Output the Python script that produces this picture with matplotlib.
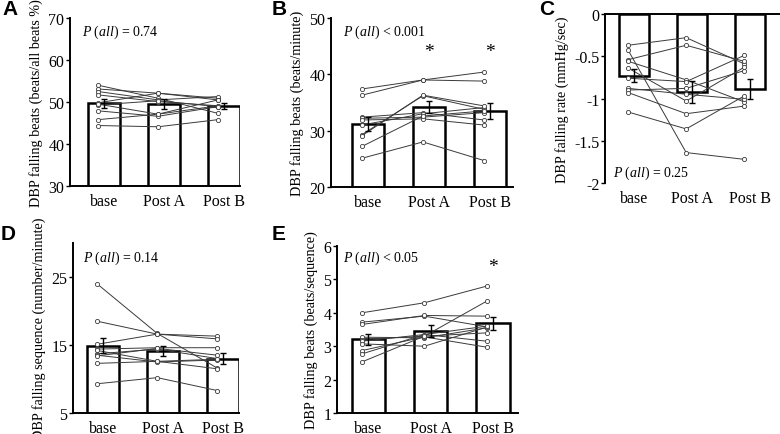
# five-panel DBP falling beat summary (bars = mean +/- SEM, lines = subjects)

import numpy as np
import matplotlib
matplotlib.use('Agg')
import matplotlib.pyplot as plt

plt.rcParams['font.family'] = 'Liberation Serif'
plt.rcParams['mathtext.fontset'] = 'custom'
plt.rcParams['mathtext.rm'] = 'Liberation Serif'
plt.rcParams['mathtext.it'] = 'Liberation Serif:italic'
plt.rcParams['axes.unicode_minus'] = False

conditions = ['base', 'Post A', 'Post B']

# A: falling beats (% of all beats)
a_base = [54.0, 53.1, 52.5, 51.7, 49.8, 49.3, 49.5, 47.9, 45.8, 44.4]
a_post_a = [50.9, 52.1, 50.5, 50.1, 52.1, 50.3, 47.1, 46.6, 47.1, 44.1]
a_post_b = [47.3, 50.9, 51.3, 49.1, 50.5, 48.9, 49.1, 48.9, 50.5, 45.8]
a_mean = [49.7, 49.5, 49.0]
a_sem = [1.1, 1.1, 0.7]

# B: falling beats per minute
b_base = [37.4, 36.3, 32.4, 32.2, 31.9, 31.0, 29.3, 29.1, 27.2, 25.1]
b_post_a = [39.0, 39.0, 33.2, 32.4, 32.1, 33.0, 36.2, 36.3, 32.6, 28.0]
b_post_b = [40.4, 38.8, 31.9, 33.2, 31.0, 34.1, 33.8, 34.4, 33.5, 24.7]
b_mean = [31.2, 34.2, 33.5]
b_sem = [1.2, 1.1, 1.4]

# C: falling rate (mmHg/sec)
c_base = [-0.37, -0.43, -0.54, -0.56, -0.64, -0.76, -0.88, -0.90, -0.93, -1.16]
c_post_a = [-0.28, -1.64, -0.37, -0.78, -1.03, -0.80, -0.95, -0.88, -1.18, -1.36]
c_post_b = [-0.59, -1.72, -0.56, -1.04, -0.63, -0.49, -1.01, -0.67, -1.09, -0.97]
c_mean = [-0.73, -0.92, -0.89]
c_sem = [0.08, 0.13, 0.12]

# D: falling sequences per minute
d_base = [24.0, 18.5, 15.1, 14.4, 14.2, 13.7, 13.5, 13.4, 12.3, 9.3]
d_post_a = [16.7, 16.6, 16.6, 14.6, 12.6, 14.4, 12.5, 14.5, 12.6, 10.2]
d_post_b = [11.6, 16.3, 15.9, 14.6, 11.5, 13.0, 12.8, 13.5, 12.9, 8.3]
d_mean = [14.9, 14.1, 13.0]
d_sem = [1.1, 0.7, 0.8]

# E: beats per sequence
e_base = [4.0, 3.72, 3.65, 3.27, 3.2, 3.15, 3.07, 2.87, 2.77, 2.53]
e_post_a = [4.3, 3.9, 3.92, 3.25, 3.3, 3.35, 3.0, 3.28, 3.35, 3.3]
e_post_b = [4.8, 3.58, 3.9, 3.55, 3.4, 3.15, 3.57, 2.97, 3.6, 4.35]
e_mean = [3.21, 3.46, 3.68]
e_sem = [0.17, 0.17, 0.19]

W, H = 780, 435


def px_axes(x0, y0, x1, y1):
    # pixel box (top-left origin) -> figure axes
    return fig.add_axes([x0 / W, 1 - y1 / H, (x1 - x0) / W, (y1 - y0) / H])


def draw_panel(ax, subjects, means, sems, ylim, yticks, xlim, ylabel, top_axis=False):
    x = np.arange(len(conditions))
    ax.bar(x, means, width=0.53, color='white', edgecolor='black', linewidth=1.8, zorder=1)
    data = np.array(subjects).T
    for row in data:
        ax.plot(x - 0.1, row, color='#3a3a3a', linewidth=0.7, marker='o', markersize=3.0,
                markerfacecolor='white', markeredgecolor='#3a3a3a', markeredgewidth=0.6, zorder=2)
    ax.errorbar(x, means, yerr=sems, fmt='none', ecolor='black', elinewidth=1.0,
                capsize=2.5, capthick=1.0, zorder=3)
    ax.set_xlim(*xlim)
    ax.set_ylim(*ylim)
    ax.set_yticks(yticks)
    ax.set_yticklabels([f'{t:g}' for t in yticks])
    ax.set_xticks(x)
    ax.set_xticklabels(conditions)
    ax.spines['right'].set_visible(False)
    if top_axis:
        ax.spines['bottom'].set_visible(False)
        ax.spines['top'].set_linewidth(1.4)
    else:
        ax.spines['top'].set_visible(False)
        ax.spines['bottom'].set_linewidth(1.4)
    ax.spines['left'].set_linewidth(1.4)
    ax.tick_params(axis='y', direction='out', length=3, width=1, pad=1, labelsize=11.5)
    ax.tick_params(axis='x', length=0, pad=5, labelsize=11.5)
    ax.set_ylabel(ylabel, fontsize=10.2, labelpad=4)
    ax.patch.set_alpha(0)


fig = plt.figure(figsize=(W / 100, H / 100), dpi=100)

ax_a = px_axes(70, 19, 240, 187)
draw_panel(ax_a, [a_base, a_post_a, a_post_b], a_mean, a_sem, (30, 70), [30, 40, 50, 60, 70],
           (-0.567, 2.267), 'DBP falling beats (beats/all beats %)')

ax_b = px_axes(331, 19, 513, 188)
draw_panel(ax_b, [b_base, b_post_a, b_post_b], b_mean, b_sem, (20, 50), [20, 30, 40, 50],
           (-0.607, 2.377), 'DBP falling beats (beats/minute)')

ax_c = px_axes(605, 15, 779, 184)
draw_panel(ax_c, [c_base, c_post_a, c_post_b], c_mean, c_sem, (-2, 0), [0, -0.5, -1, -1.5, -2],
           (-0.5, 2.5), 'DBP falling rate (mmHg/sec)', top_axis=True)

ax_d = px_axes(73, 244, 239, 414)
draw_panel(ax_d, [d_base, d_post_a, d_post_b], d_mean, d_sem, (5, 30), [5, 15, 25],
           (-0.5, 2.26), 'DBP falling sequence (number/minute)')

ax_e = px_axes(337, 247, 518, 414)
draw_panel(ax_e, [e_base, e_post_a, e_post_b], e_mean, e_sem, (1, 6), [1, 2, 3, 4, 5, 6],
           (-0.5, 2.4), 'DBP falling beats (beats/sequence)')

# significance marks
ax_b.text(1, 44.0, '*', ha='center', va='center', fontsize=14)
ax_b.text(2, 44.0, '*', ha='center', va='center', fontsize=14)
ax_e.text(2, 5.4, '*', ha='center', va='center', fontsize=14)

# P values
p_kw = dict(fontsize=10, va='center', ha='left')
fig.text(82 / W, 1 - 32 / H, r'$P\ (all)$ = 0.74', **p_kw)
fig.text(343 / W, 1 - 32 / H, r'$P\ (all)$ < 0.001', **p_kw)
fig.text(613 / W, 1 - 173 / H, r'$P\ (all)$ = 0.25', **p_kw)
fig.text(83 / W, 1 - 258 / H, r'$P\ (all)$ = 0.14', **p_kw)
fig.text(343 / W, 1 - 258 / H, r'$P\ (all)$ < 0.05', **p_kw)

# panel letters
l_kw = dict(fontsize=15, fontweight='bold', family='Liberation Sans', va='top', ha='left')
fig.text(2 / W, 1 - 0 / H, 'A', **l_kw)
fig.text(272 / W, 1 - 0 / H, 'B', **l_kw)
fig.text(539 / W, 1 - 0 / H, 'C', **l_kw)
fig.text(1 / W, 1 - 225 / H, 'D', **l_kw)
fig.text(272 / W, 1 - 225 / H, 'E', **l_kw)

fig.savefig('out.png', dpi=100)
